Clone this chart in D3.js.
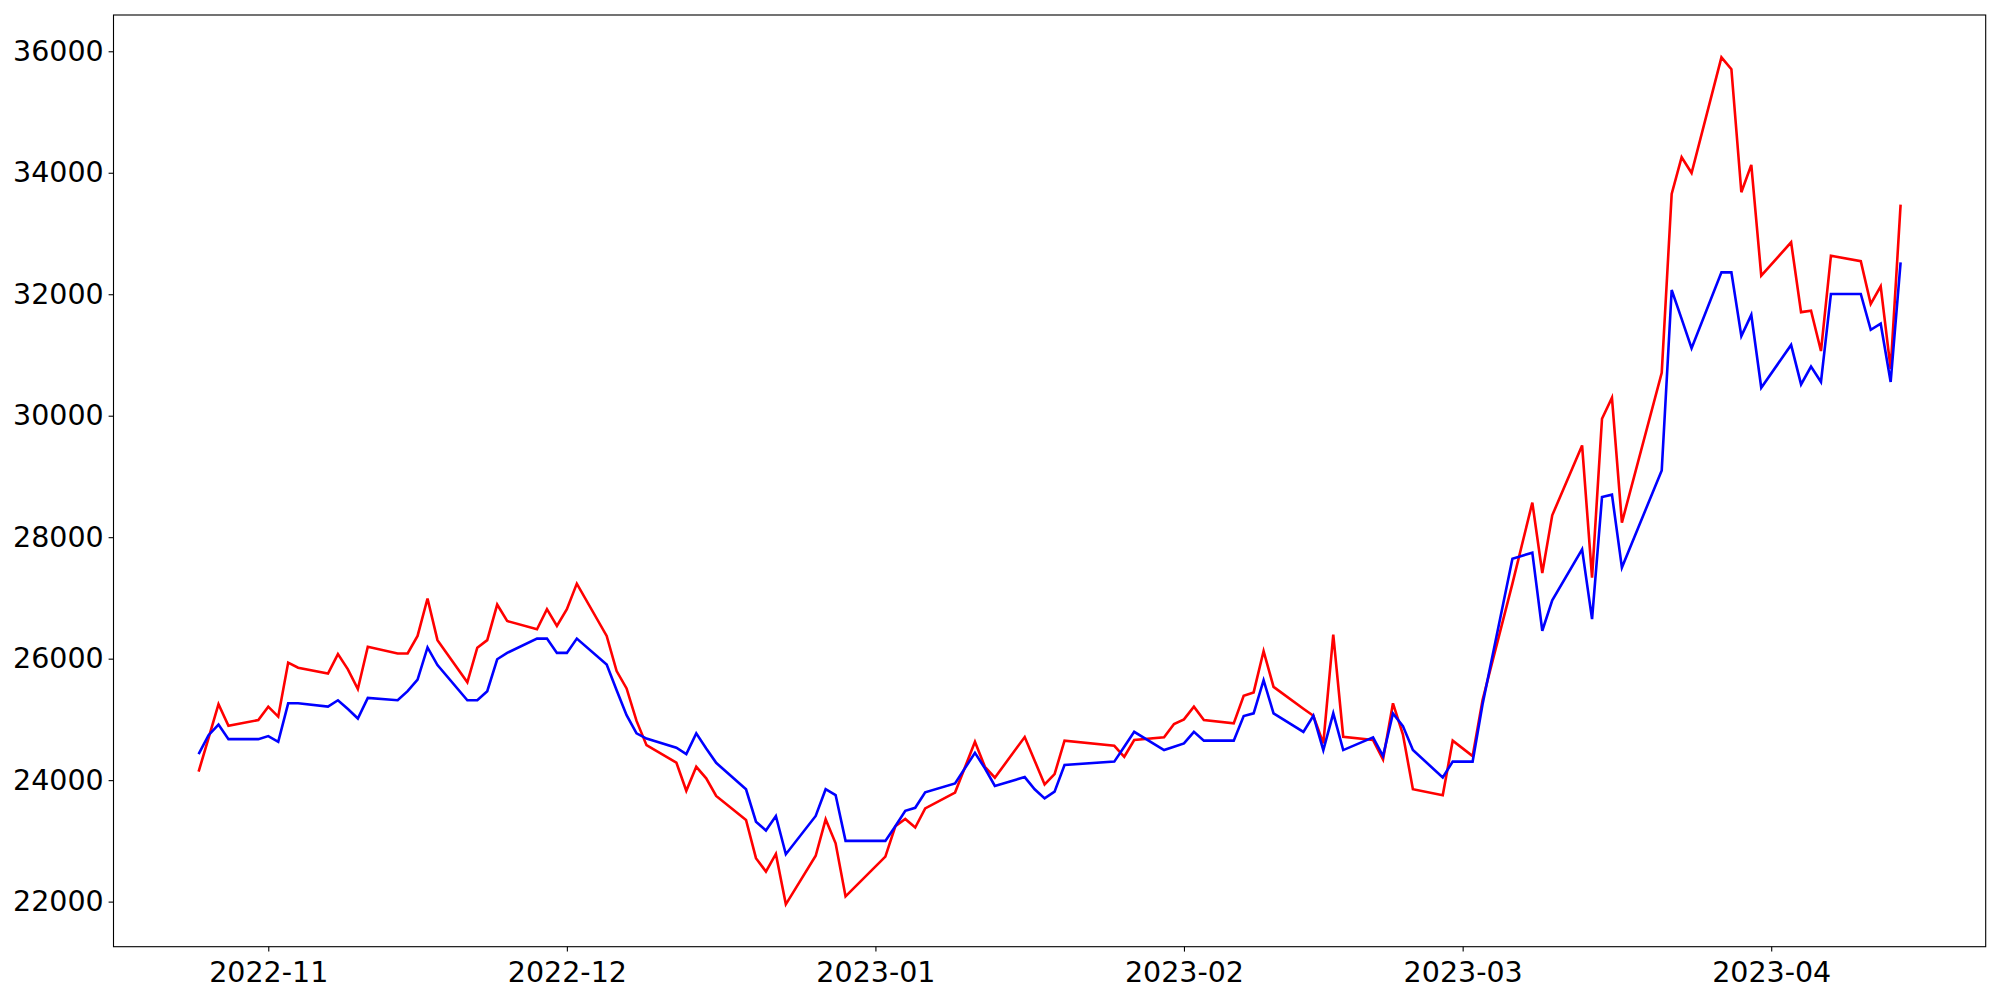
<!DOCTYPE html>
<html>
<head>
<meta charset="utf-8">
<script src="https://cdn.jsdelivr.net/npm/d3@7"></script>
<style>
  html, body { margin: 0; padding: 0; background: #fff; }
  svg { display: block; font-family: "DejaVu Sans", sans-serif; }
</style>
</head>
<body>
<div class="line-chart"></div>
<script>
// trading days
const dates = [
  "2022-10-25","2022-10-26","2022-10-27","2022-10-28","2022-10-31",
  "2022-11-01","2022-11-02","2022-11-03","2022-11-04","2022-11-07","2022-11-08","2022-11-09","2022-11-10","2022-11-11",
  "2022-11-14","2022-11-15","2022-11-16","2022-11-17","2022-11-18","2022-11-21","2022-11-22","2022-11-23","2022-11-24",
  "2022-11-25","2022-11-28","2022-11-29","2022-11-30",
  "2022-12-01","2022-12-02","2022-12-05","2022-12-06","2022-12-07","2022-12-08","2022-12-09","2022-12-12","2022-12-13",
  "2022-12-14","2022-12-15","2022-12-16","2022-12-19","2022-12-20","2022-12-21","2022-12-22","2022-12-23","2022-12-26",
  "2022-12-27","2022-12-28","2022-12-29",
  "2023-01-02","2023-01-03","2023-01-04","2023-01-05","2023-01-06","2023-01-09","2023-01-11","2023-01-12","2023-01-13",
  "2023-01-16","2023-01-17","2023-01-18","2023-01-19","2023-01-20","2023-01-25","2023-01-26","2023-01-27","2023-01-30",
  "2023-01-31",
  "2023-02-01","2023-02-02","2023-02-03","2023-02-06","2023-02-07","2023-02-08","2023-02-09","2023-02-10","2023-02-13",
  "2023-02-14","2023-02-15","2023-02-16","2023-02-17","2023-02-20","2023-02-21","2023-02-22","2023-02-23","2023-02-24",
  "2023-02-27","2023-02-28",
  "2023-03-02","2023-03-03","2023-03-06","2023-03-08","2023-03-09","2023-03-10","2023-03-13","2023-03-14","2023-03-15",
  "2023-03-16","2023-03-17","2023-03-21","2023-03-22","2023-03-23","2023-03-24","2023-03-27","2023-03-28","2023-03-29",
  "2023-03-30","2023-03-31",
  "2023-04-03","2023-04-04","2023-04-05","2023-04-06","2023-04-07","2023-04-10","2023-04-11","2023-04-12","2023-04-13",
  "2023-04-14"
];

// red series
const redValues = [
  24140, 24690, 25250, 24895, 24990,
  25210, 25045, 25935, 25850, 25755, 26075, 25825, 25500, 26195, 26085, 26085, 26375, 26990, 26305, 25610, 26180,
  26305, 26890, 26620, 26485, 26815, 26540,
  26815, 27235, 26375, 25795, 25510, 24975, 24575, 24290, 23825, 24220, 24030, 23740, 23345, 22715, 22495, 22785,
  21955, 22755, 23355, 22960, 22085,
  22740, 23240, 23360, 23220, 23535, 23795, 24630, 24220, 24040, 24710, 24320, 23930, 24100, 24650, 24565, 24385,
  24660, 24705, 24925,
  25000, 25210, 24990, 24935, 25390, 25445, 26125, 25535, 25175, 25060, 24605, 26395, 24715, 24660, 24340, 25265,
  24750, 23850, 23750, 24650,
  24395, 25320, 27235, 28570, 27410, 28360, 29510, 27335, 29950, 30295, 28240, 30705, 33650, 34255, 33995, 35900,
  35705, 33680, 34130, 32305,
  32855, 31705, 31730, 31065, 32635, 32545, 31840, 32130, 30770, 33475
];

// blue series
const blueValues = [
  24430, 24740, 24915, 24675, 24675,
  24725, 24630, 25265, 25265, 25210, 25315, 25170, 25015, 25355, 25315, 25465, 25655, 26185, 25895, 25315, 25315,
  25465, 25990, 26095, 26330, 26330, 26095,
  26095, 26330, 25905, 25480, 25070, 24770, 24685, 24535, 24430, 24770, 24520, 24285, 23850, 23315, 23170, 23410,
  22780, 23410, 23850, 23755, 23000,
  23000, 23240, 23495, 23545, 23800, 23945, 24450, 24195, 23905, 24050, 23850, 23700, 23810, 24250, 24305, 24550,
  24795, 24495, 24550,
  24605, 24795, 24650, 24650, 25055, 25100, 25645, 25100, 24795, 25060, 24495, 25100, 24495, 24705, 24395, 25100,
  24890, 24495, 24045, 24305,
  24305, 25250, 27645, 27745, 26460, 26960, 27800, 26650, 28660, 28700, 27500, 29100, 32070, 31595, 31110, 32360,
  32360, 31310, 31660, 30460,
  31165, 30515, 30810, 30555, 32005, 32005, 31415, 31515, 30555, 32525
];

const yTicks = [22000, 24000, 26000, 28000, 30000, 32000, 34000, 36000];

console.log("lengths", dates.length, redValues.length, blueValues.length);

const width = 2000;
const height = 1000;
const margin = {top: 15, right: 14.3, bottom: 53.3, left: 113.5};

const parse = d3.utcParse("%Y-%m-%d");
const days = dates.map(parse);

const svg = d3.select(".line-chart").append("svg")
    .attr("width", width)
    .attr("height", height)
    .attr("viewBox", [0, 0, width, height]);

// matplotlib style 5% margins
const xExt = d3.extent(days);
const xPad = (xExt[1] - xExt[0]) * 0.05;
const x = d3.scaleUtc()
    .domain([new Date(+xExt[0] - xPad), new Date(+xExt[1] + xPad)])
    .range([margin.left, width - margin.right]);

const yExt = d3.extent(redValues.concat(blueValues));
const yPad = (yExt[1] - yExt[0]) * 0.05;
const y = d3.scaleLinear()
    .domain([yExt[0] - yPad, yExt[1] + yPad])
    .range([height - margin.bottom, margin.top]);

const tickLen = 4.9;
const tickPad = 4.9;
const fontSize = "28.5px";

const xAxis = svg.append("g")
    .attr("transform", `translate(0,${height - margin.bottom})`)
    .call(d3.axisBottom(x)
        .ticks(d3.utcMonth.every(1))
        .tickFormat(d3.utcFormat("%Y-%m"))
        .tickSize(tickLen)
        .tickPadding(tickPad));

const yAxis = svg.append("g")
    .attr("transform", `translate(${margin.left},0)`)
    .call(d3.axisLeft(y)
        .tickValues(yTicks)
        .tickFormat(d3.format("d"))
        .tickSize(tickLen)
        .tickPadding(tickPad));

[xAxis, yAxis].forEach(g => {
    g.select(".domain").remove();
    g.selectAll(".tick line").attr("stroke", "#000").attr("stroke-width", 1.1);
    g.selectAll(".tick text")
        .attr("fill", "#000")
        .style("font-family", "'DejaVu Sans', sans-serif")
        .style("font-size", fontSize);
});
xAxis.selectAll(".tick text").attr("dy", "0.88em");

const line = vals => d3.line()
    .x((d, i) => x(days[i]))
    .y(d => y(d))(vals);

svg.append("path")
    .attr("d", line(redValues))
    .attr("fill", "none")
    .attr("stroke", "#ff0000")
    .attr("stroke-width", 2.6)
    .attr("stroke-linejoin", "miter");

svg.append("path")
    .attr("d", line(blueValues))
    .attr("fill", "none")
    .attr("stroke", "#0000ff")
    .attr("stroke-width", 2.6)
    .attr("stroke-linejoin", "miter");

// axes frame
svg.append("rect")
    .attr("x", margin.left)
    .attr("y", margin.top)
    .attr("width", width - margin.left - margin.right)
    .attr("height", height - margin.top - margin.bottom)
    .attr("fill", "none")
    .attr("stroke", "#000")
    .attr("stroke-width", 1.1);
</script>
</body>
</html>
